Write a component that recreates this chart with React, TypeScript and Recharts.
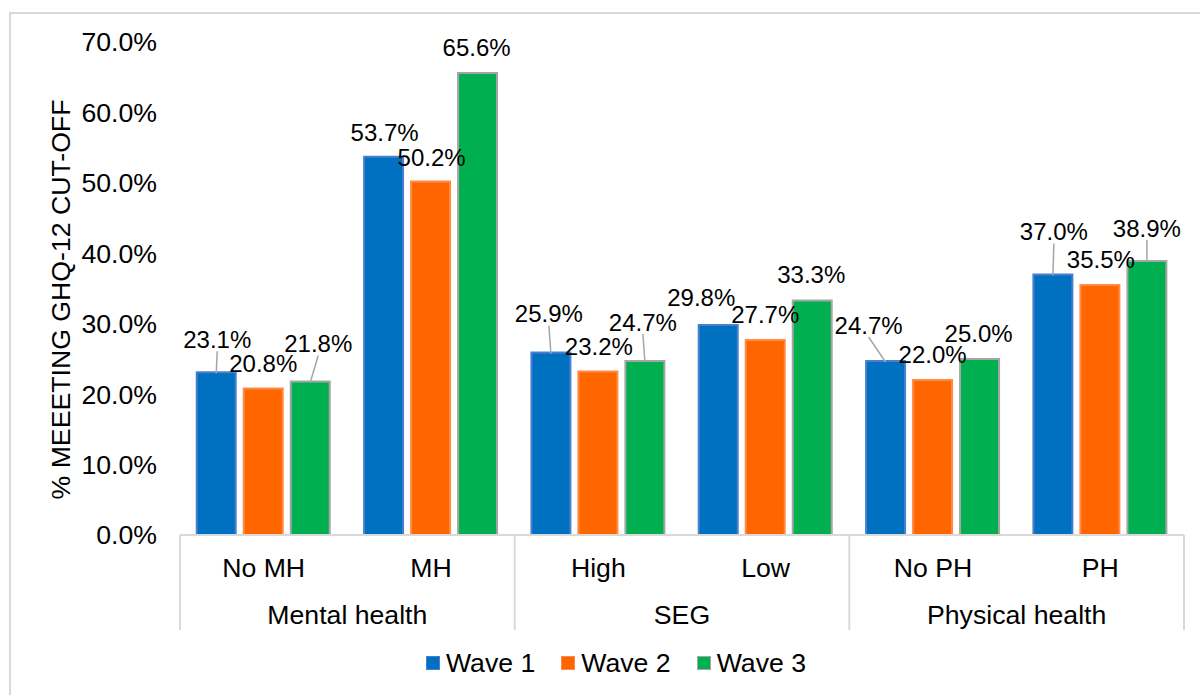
import React from 'react';
import { BarChart, Bar, XAxis, YAxis, LabelList } from 'recharts';

const categories = ['No MH', 'MH', 'High', 'Low', 'No PH', 'PH'];
const categoryGroups = [0, 0, 1, 1, 2, 2];
const groupLabels = ['Mental health', 'SEG', 'Physical health'];
const wave1 = [23.1, 53.7, 25.9, 29.8, 24.7, 37.0];
const wave2 = [20.8, 50.2, 23.2, 27.7, 22.0, 35.5];
const wave3 = [21.8, 65.6, 24.7, 33.3, 25.0, 38.9];
const yTicks = [0, 10, 20, 30, 40, 50, 60, 70];
const seriesNames = ['Wave 1', 'Wave 2', 'Wave 3'];
const seriesKeys = ['w1', 'w2', 'w3'];
const seriesFills = ['#0070C0', '#FF6600', '#00B050'];
const seriesStrokes = ['#4A7FD0', '#FF8A45', '#A5A5A5'];
const yTitle = '% MEEETING GHQ-12 CUT-OFF';

// label nudges (dx, dy from bar top-centre), as dragged in the original
const labelNudges = [
  [[1, -33], [1, -24], [-2, -39], [-17, -28], [-17, -36], [1, -43]],
  [[0, -25], [1, -24], [1, -25], [0, -25], [0, -26], [1, -25]],
  [[8, -38], [-1, -25], [-2, -39], [-1, -26], [-1, -25], [0, -33]],
];

const chartData = categories.map((c, i) => ({
  category: c,
  w1: wave1[i],
  w2: wave2[i],
  w3: wave3[i],
}));

const FONT = '"Liberation Sans", Arial, sans-serif';
const AXIS_FS = 26.67;
const LABEL_FS = 24;
const GRID = '#D9D9D9';

const PLOT_LEFT = 180;
const PLOT_RIGHT_MARGIN = 16;
const CHART_W = 1200;

const makeLabel = (series: number) => (props: any) => {
  const vb = props.viewBox || {};
  const x = props.x ?? vb.x;
  const y = props.y ?? vb.y;
  const w = props.width ?? vb.width;
  const idx = props.index ?? 0;
  const v = props.value;
  if (x == null || y == null) return null;
  const [dx, dy] = labelNudges[series][idx] || [0, -25];
  const cx = x + w / 2;
  const lx = cx + dx;
  const ly = y + dy;
  return (
    <g>
      {dy <= -30 && (
        <line x1={lx} y1={ly + 12} x2={cx} y2={y + 1} stroke="#A6A6A6" strokeWidth={1.5} />
      )}
      <text
        x={lx}
        y={ly}
        textAnchor="middle"
        dominantBaseline="central"
        fontSize={LABEL_FS}
        fontFamily={FONT}
        fill="#000"
      >
        {Number(v).toFixed(1) + '%'}
      </text>
    </g>
  );
};

const CategoryTick = (props: any) => {
  const { x, y, payload } = props;
  const index = payload?.index ?? props.index ?? 0;
  const plotW = CHART_W - PLOT_LEFT - PLOT_RIGHT_MARGIN;
  const half =
    payload && typeof payload.offset === 'number' && payload.offset > 0
      ? payload.offset
      : plotW / categories.length / 2;
  const g = categoryGroups[index];
  const isFirst = index === 0 || categoryGroups[index - 1] !== g;
  const isLast = index === categories.length - 1;
  return (
    <g>
      <text
        x={x}
        y={y + 33}
        textAnchor="middle"
        dominantBaseline="central"
        fontSize={AXIS_FS}
        fontFamily={FONT}
        fill="#000"
      >
        {payload.value}
      </text>
      {isFirst && (
        <>
          <line x1={x - half} y1={y} x2={x - half} y2={y + 95} stroke={GRID} strokeWidth={2} />
          <text
            x={x + half}
            y={y + 80}
            textAnchor="middle"
            dominantBaseline="central"
            fontSize={AXIS_FS}
            fontFamily={FONT}
            fill="#000"
          >
            {groupLabels[g]}
          </text>
        </>
      )}
      {isLast && (
        <line x1={x + half} y1={y} x2={x + half} y2={y + 95} stroke={GRID} strokeWidth={2} />
      )}
    </g>
  );
};

const YTitle = (props: any) => {
  const vb = props.viewBox || { x: 80, y: 42, width: 100, height: 493 };
  const cx = vb.x - 19;
  const cy = vb.y + vb.height / 2 + 11;
  return (
    <text
      x={cx}
      y={cy}
      transform={`rotate(-90, ${cx}, ${cy})`}
      textAnchor="middle"
      dominantBaseline="central"
      fontSize={AXIS_FS}
      fontFamily={FONT}
      fill="#000"
    >
      {yTitle}
    </text>
  );
};

export default function App() {
  return (
    <div style={{ position: 'absolute', left: 0, top: 0, width: 1200, height: 695, overflow: 'hidden', background: '#fff' }}>
      <div
        style={{
          position: 'absolute',
          left: 9,
          top: 12,
          width: 1210,
          height: 720,
          border: `2px solid ${GRID}`,
          boxSizing: 'border-box',
        }}
      />
      <div style={{ position: 'absolute', left: 0, top: 0 }}>
        <BarChart
          width={1200}
          height={695}
          data={chartData}
          margin={{ top: 42, right: PLOT_RIGHT_MARGIN, bottom: 60, left: 80 }}
          barCategoryGap="10%"
          barGap={8}
        >
          <XAxis
            dataKey="category"
            height={100}
            axisLine={{ stroke: GRID, strokeWidth: 2 }}
            tickLine={false}
            tickSize={0}
            tickMargin={0}
            interval={0}
            tick={<CategoryTick />}
          />
          <YAxis
            width={100}
            domain={[0, 70]}
            ticks={yTicks}
            axisLine={false}
            tickLine={false}
            tickSize={0}
            tickMargin={23}
            tick={{ fill: '#000', fontSize: AXIS_FS, fontFamily: FONT }}
            tickFormatter={(v: number) => v.toFixed(1) + '%'}
            label={<YTitle />}
          />
          {seriesKeys.map((k, s) => (
            <Bar
              key={k}
              dataKey={k}
              name={seriesNames[s]}
              fill={seriesFills[s]}
              stroke={seriesStrokes[s]}
              strokeWidth={2}
              isAnimationActive={false}
            >
              <LabelList dataKey={k} content={makeLabel(s)} />
            </Bar>
          ))}
        </BarChart>
      </div>
      <div
        style={{
          position: 'absolute',
          left: 0,
          width: 1232,
          top: 648,
          height: 30,
          display: 'flex',
          justifyContent: 'center',
          alignItems: 'center',
          fontFamily: FONT,
          fontSize: AXIS_FS,
          color: '#000',
        }}
      >
        {seriesNames.map((n, s) => (
          <div key={n} style={{ display: 'flex', alignItems: 'center', marginRight: s < seriesNames.length - 1 ? 26 : 0 }}>
            <span
              style={{
                display: 'inline-block',
                width: 14,
                height: 14,
                background: seriesFills[s],
                border: `1.5px solid ${seriesStrokes[s]}`,
                boxSizing: 'border-box',
                marginRight: 6,
              }}
            />
            <span style={{ lineHeight: '30px' }}>{n}</span>
          </div>
        ))}
      </div>
    </div>
  );
}
